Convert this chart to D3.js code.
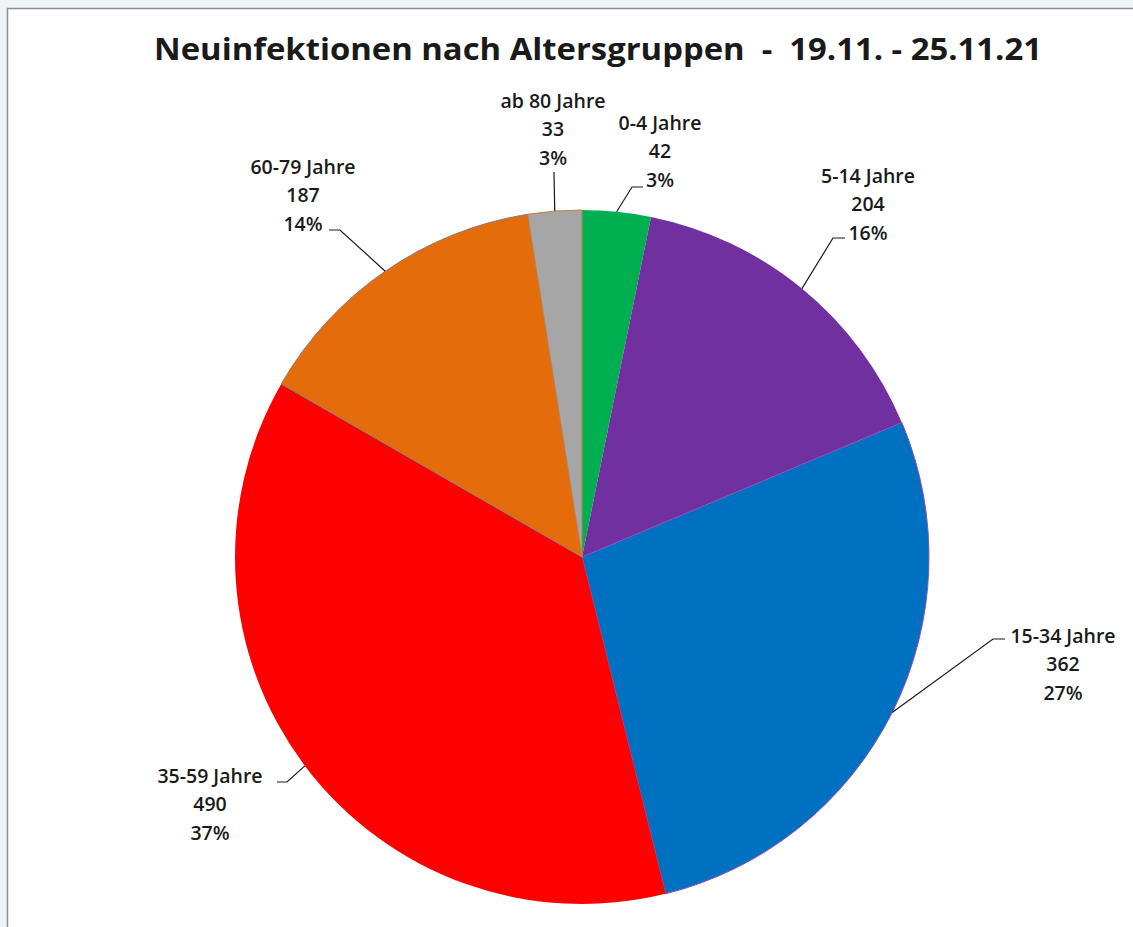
<!DOCTYPE html>
<html>
<head>
<meta charset="utf-8">
<style>
  body { margin: 0; background: #eef3f6; }
  svg { display: block; }
  text { font-family: "Open Sans", "Noto Sans", sans-serif; font-weight: 700; fill: #1a1a1a; }
</style>
<script src="https://d3js.org/d3.v7.min.js"></script>
</head>
<body>
<script>
const title = "Neuinfektionen nach Altersgruppen  -  19.11. - 25.11.21";
const groups = ["0-4 Jahre", "5-14 Jahre", "15-34 Jahre", "35-59 Jahre", "60-79 Jahre", "ab 80 Jahre"];
const counts = [42, 204, 362, 490, 187, 33];
const percents = ["3%", "16%", "27%", "37%", "14%", "3%"];
const colors = ["#00b050", "#7030a0", "#0070c0", "#ff0000", "#e46c0a", "#a6a6a6"];
const edges = ["none", "none", "#8a4fc0", "none", "#7f7f7f", "#c0804a"];

// label layout: text centre x, first line y, elbow point, end of short horizontal
const labelLayout = [
  {x: 660, y: 122, elbow: [632, 187], end: [643, 187]},
  {x: 868, y: 175, elbow: [833, 238], end: [845, 238]},
  {x: 1063, y: 635, elbow: [993, 639], end: [1005, 639]},
  {x: 210, y: 775, elbow: [287, 782], end: [277, 782]},
  {x: 303, y: 166, elbow: [340, 230], end: [329, 230]},
  {x: 553, y: 100, elbow: [554, 172], end: [554, 172]}
];

const w = 1133, h = 927;
const cx = 582, cy = 557, r = 347;

const svg = d3.select("body").append("svg")
  .attr("width", w).attr("height", h);

// chart frame
svg.append("rect")
  .attr("x", 7.5).attr("y", 8.5)
  .attr("width", w).attr("height", h)
  .attr("fill", "#fff")
  .attr("stroke", "#8c8c8c")
  .attr("stroke-width", 1.5);

svg.append("text")
  .attr("x", 598).attr("y", 48)
  .attr("text-anchor", "middle")
  .attr("dominant-baseline", "central")
  .attr("textLength", 888)
  .attr("lengthAdjust", "spacingAndGlyphs")
  .attr("xml:space", "preserve")
  .style("font-size", "31px")
  .style("white-space", "pre")
  .text(title);

const data = groups.map((g, i) => ({group: g, count: counts[i], pct: percents[i], i: i}));

const pie = d3.pie().sort(null).value(d => d.count);
const arc = d3.arc().innerRadius(0).outerRadius(r);
const arcs = pie(data);

const g = svg.append("g").attr("transform", `translate(${cx},${cy})`);

g.selectAll("path")
  .data(arcs)
  .enter()
  .append("path")
  .attr("d", arc)
  .attr("fill", d => colors[d.data.i])
  .attr("stroke", d => edges[d.data.i])
  .attr("stroke-width", 1);

// leader lines
arcs.forEach(a => {
  const mid = (a.startAngle + a.endAngle) / 2;
  const px = cx + r * Math.sin(mid);
  const py = cy - r * Math.cos(mid);
  const L = labelLayout[a.data.i];
  svg.append("polyline")
    .attr("points", [[px, py], L.elbow, L.end].map(p => p.join(",")).join(" "))
    .attr("fill", "none")
    .attr("stroke", "#1a1a1a")
    .attr("stroke-width", 1.2);
});

// labels
data.forEach((d, i) => {
  const L = labelLayout[i];
  const t = svg.append("text")
    .attr("text-anchor", "middle")
    .style("font-size", "19.5px")
    .style("font-weight", "600");
  [d.group, d.count, d.pct].forEach((s, k) => {
    t.append("tspan")
      .attr("x", L.x)
      .attr("y", L.y + k * 28.5)
      .attr("dominant-baseline", "central")
      .text(s);
  });
});
</script>
</body>
</html>
